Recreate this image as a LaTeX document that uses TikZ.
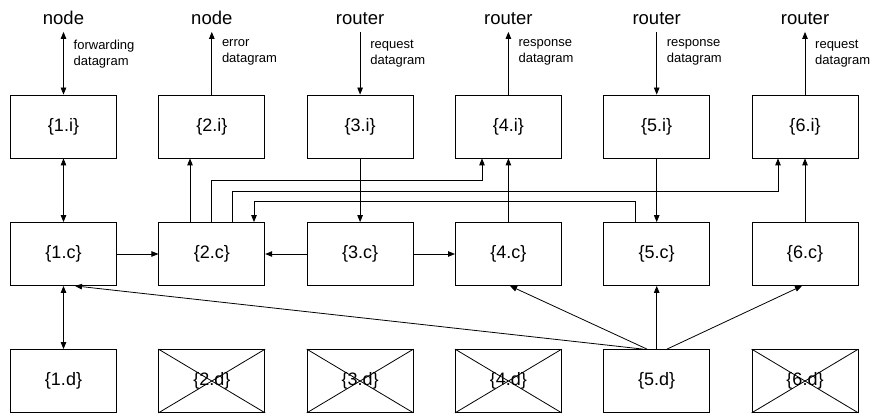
\documentclass[tikz,border=0pt]{standalone}
\usepackage{fontspec}
\setmainfont{Liberation Sans}
\usetikzlibrary{arrows.meta,calc}
\begin{document}
\begin{tikzpicture}[x=1pt,y=-1pt,
  box/.style={draw,line width=0.8pt,minimum width=106pt,minimum height=63pt,inner sep=0pt,font=\fontsize{18}{20}\selectfont},
  hdr/.style={font=\fontsize{18.5}{20}\selectfont,inner xsep=0pt,inner ysep=6.5pt,anchor=base},
  lbl/.style={font=\fontsize{13}{16}\selectfont,align=left,inner sep=0pt,anchor=north west},
  conn/.style={line width=0.8pt,-{Triangle[length=7pt,width=5.5pt]}},
  biconn/.style={line width=0.8pt,{Triangle[length=7pt,width=5.5pt]}-{Triangle[length=7pt,width=5.5pt]}},
  cross/.style={line width=0.8pt}
]
\useasboundingbox (0,0) rectangle (870,414);
\fill[white] (0,0) rectangle (870,414);
% boxes
\foreach \k/\cx in {1/63.5,2/211.8,3/360.1,4/508.4,5/656.7,6/805}{
  \node[box] (i\k) at (\cx,126.5) {\{\k.i\}};
  \node[box] (c\k) at (\cx,254) {\{\k.c\}};
  \node[box] (d\k) at (\cx,381) {\{\k.d\}};
}
% headers
\node[hdr] (h1) at (63.5,25) {node};
\node[hdr] (h2) at (211.8,25) {node};
\node[hdr] (h3) at (360.1,25) {router};
\node[hdr] (h4) at (508.4,25) {router};
\node[hdr] (h5) at (656.7,25) {router};
\node[hdr] (h6) at (805,25) {router};
% side labels
\node[lbl] (l1) at (73.5,39.5) {forwarding\\datagram};
\node[lbl] (l2) at (221.8,39.5) {error\\datagram};
\node[lbl] (l3) at (370.1,39.5) {request\\datagram};
\node[lbl] (l4) at (518.4,39.5) {response\\datagram};
\node[lbl] (l5) at (666.7,39.5) {response\\datagram};
\node[lbl] (l6) at (815,39.5) {request\\datagram};
% top connectors
\draw[biconn] (h1.south) -- (i1.north);
\draw[conn] (i2.north) -- (h2.south);
\draw[conn] (h3.south) -- (i3.north);
\draw[conn] (i4.north) -- (h4.south);
\draw[conn] (h5.south) -- (i5.north);
\draw[conn] (i6.north) -- (h6.south);
% i <-> c
\draw[biconn] (i1) -- (c1);
\draw[conn] ([xshift=-21.8pt]c2.north) -- ([xshift=-21.8pt]i2.south);
\draw[conn] (i3) -- (c3);
\draw[conn] (c4) -- (i4);
\draw[conn] (i5) -- (c5);
\draw[conn] (c6) -- (i6);
% routed lines
\draw[conn] ([xshift=-0.8pt]c2.north) -- ++(0,-42) -| ([xshift=-26.4pt]i4.south);
\draw[conn] ([xshift=20.2pt]c2.north) -- ++(0,-31) -| ([xshift=-27pt]i6.south);
\draw[conn] ([xshift=-21.7pt]c5.north) -- ++(0,-21) -| ([xshift=42.2pt]c2.north);
% horizontal
\draw[conn] (c1) -- (c2);
\draw[conn] (c3) -- (c2);
\draw[conn] (c3) -- (c4);
% bottom
\draw[biconn] (c1) -- (d1);
\draw[conn] (d5) -- (c5);
\draw[conn] ([xshift=-13.7pt]d5.north) -- ([xshift=11.5pt]c1.south);
\draw[conn] ([xshift=-9.7pt]d5.north) -- ([xshift=1.6pt]c4.south);
\draw[conn] ([xshift=10.3pt]d5.north) -- ([xshift=-3pt]c6.south);
% crosses
\foreach \k in {2,3,4,6}{
  \draw[cross] (d\k.north west) -- (d\k.south east) (d\k.north east) -- (d\k.south west);
}
\end{tikzpicture}
\end{document}
